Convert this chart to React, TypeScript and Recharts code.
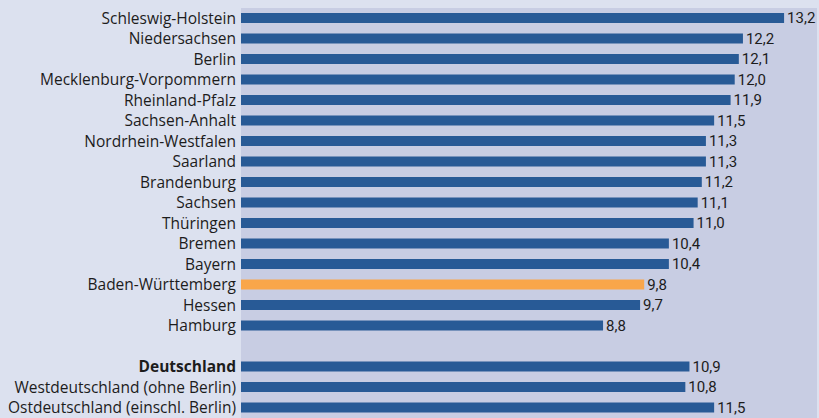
import React from 'react';
import { BarChart, Bar, XAxis, YAxis, CartesianGrid, Cell, LabelList } from 'recharts';

const categories = [
  'Schleswig-Holstein',
  'Niedersachsen',
  'Berlin',
  'Mecklenburg-Vorpommern',
  'Rheinland-Pfalz',
  'Sachsen-Anhalt',
  'Nordrhein-Westfalen',
  'Saarland',
  'Brandenburg',
  'Sachsen',
  'Thüringen',
  'Bremen',
  'Bayern',
  'Baden-Württemberg',
  'Hessen',
  'Hamburg',
  '',
  'Deutschland',
  'Westdeutschland (ohne Berlin)',
  'Ostdeutschland (einschl. Berlin)',
];

const values: (number | null)[] = [
  13.2, 12.2, 12.1, 12.0, 11.9, 11.5, 11.3, 11.3, 11.2, 11.1, 11.0, 10.4, 10.4, 9.8, 9.7, 8.8,
  null,
  10.9, 10.8, 11.5,
];

const highlighted = 'Baden-Württemberg';
const boldCategories = ['Deutschland'];

const data = categories.map((name, i) => ({ name, value: values[i] }));

const FONT = '"Open Sans", "Noto Sans", sans-serif';

const fmt = (v: number | null | undefined) =>
  v === null || v === undefined ? '' : v.toFixed(1).replace('.', ',');

const CategoryTick = (props: any) => {
  const { x, y, payload } = props;
  const bold = boldCategories.includes(payload.value);
  return (
    <text
      x={x}
      y={y}
      dy="0.355em"
      textAnchor="end"
      fill="#1c1c1c"
      fontSize={15.5}
      fontFamily={FONT}
      fontWeight={bold ? 700 : 400}
    >
      {payload.value}
    </text>
  );
};

const ValueLabel = (props: any) => {
  const { x, y, width, height, value } = props;
  if (value === null || value === undefined) return null;
  return (
    <text
      x={x + width + 3}
      y={y + height / 2}
      dy="0.355em"
      textAnchor="start"
      fill="#1c1c1c"
      fontSize={15}
      fontFamily='Roboto, sans-serif'
    >
      {fmt(value)}
    </text>
  );
};

export default function App() {
  return (
    <div
      style={{
        position: 'absolute',
        left: 0,
        top: 0,
        width: 819,
        height: 418,
        overflow: 'hidden',
        background: '#dce1ef',
      }}
    >
      <BarChart
        width={819}
        height={418}
        data={data}
        layout="vertical"
        margin={{ top: 8, right: 2, bottom: 0, left: 0 }}
        barCategoryGap={0}
      >
        <CartesianGrid horizontal={false} vertical={false} fill="#c8cde3" stroke="none" />
        <XAxis type="number" domain={[0, 14]} hide />
        <YAxis
          type="category"
          dataKey="name"
          width={241}
          axisLine={false}
          tickLine={false}
          tickSize={3}
          tickMargin={2}
          interval={0}
          tick={<CategoryTick />}
        />
        <Bar dataKey="value" barSize={10} isAnimationActive={false}>
          {data.map((d, i) => (
            <Cell key={i} fill={d.name === highlighted ? '#f9a64a' : '#285a96'} />
          ))}
          <LabelList dataKey="value" content={<ValueLabel />} />
        </Bar>
      </BarChart>
    </div>
  );
}
